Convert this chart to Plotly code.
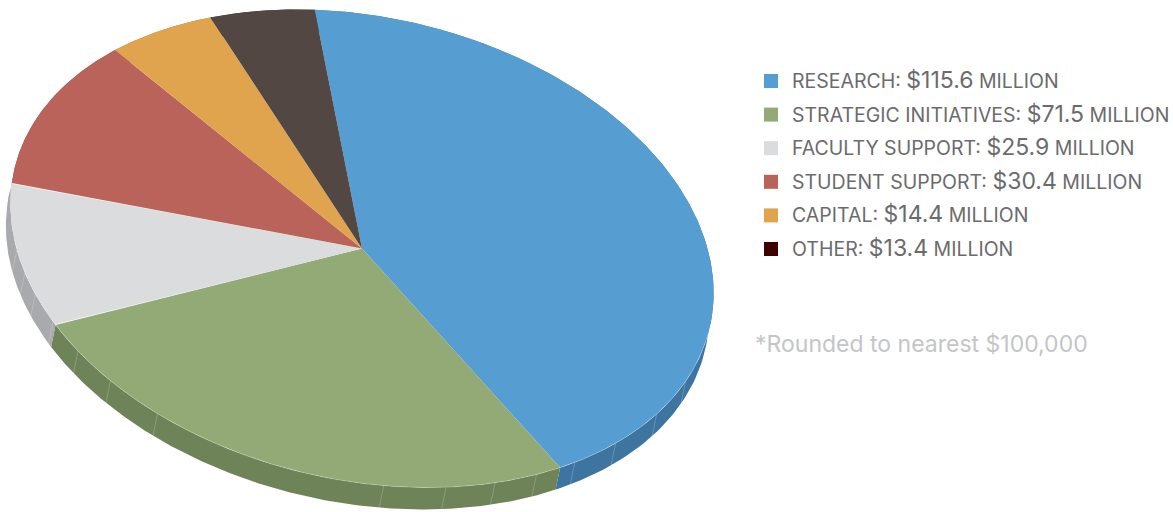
import numpy as np
import plotly.graph_objects as go

labels = ["RESEARCH", "STRATEGIC INITIATIVES", "FACULTY SUPPORT", "STUDENT SUPPORT", "CAPITAL", "OTHER"]
values = [115.6, 71.5, 25.9, 30.4, 14.4, 13.4]
top_colors = ["#569dd2", "#93a976", "#dbdcde", "#b9635a", "#e0a44e", "#524743"]
side_colors = ["#3d75a0", "#6e8358", "#a9aaae", "#8a4a43", "#a87b3a", "#3d3532"]
legend_colors = ["#569dd2", "#93a976", "#dbdcde", "#b9635a", "#e0a44e", "#3f0000"]
footnote = "*Rounded to nearest $100,000"

# projection of the tilted disc, in page pixels
CX, CY = 362.0, 248.5
A, B = 356.6, 231.6
PHI = np.radians(12.6)
START = -106.0
DEPTH_X, DEPTH_Y = -4.5, 22.0
SEAMS = [14.8, 24.8, 35.6, 44.5, 52.0, 59.5, 67.9, 78.2, 117.3, 127.4, 135.6, 143.2, 150.0, 155.2, 160.7]


def rim(t_deg, dx=0.0, dy=0.0):
    t = np.radians(np.asarray(t_deg, dtype=float))
    u, v = A * np.cos(t), B * np.sin(t)
    return CX + u * np.cos(PHI) - v * np.sin(PHI) + dx, CY + u * np.sin(PHI) + v * np.cos(PHI) + dy


fig = go.Figure()
total = sum(values)
edges = START + np.concatenate([[0], np.cumsum(values)]) / total * 360.0

# side walls
for i in range(len(values)):
    t = np.linspace(edges[i], edges[i + 1], 160)
    x1, y1 = rim(t)
    x2, y2 = rim(t[::-1], DEPTH_X, DEPTH_Y)
    fig.add_trace(go.Scatter(x=np.r_[x1, x2], y=np.r_[y1, y2], mode="lines", fill="toself",
                             fillcolor=side_colors[i], line=dict(width=0), hoverinfo="skip", showlegend=False))

# faint facet seams on the wall
for s in SEAMS:
    x1, y1 = rim([s])
    x2, y2 = rim([s], DEPTH_X, DEPTH_Y)
    fig.add_trace(go.Scatter(x=[x1[0], x2[0]], y=[y1[0], y2[0]], mode="lines",
                             line=dict(color="rgba(255,255,255,0.2)", width=1), hoverinfo="skip", showlegend=False))

# top surface
for i in range(len(values)):
    t = np.linspace(edges[i], edges[i + 1], 240)
    x, y = rim(t)
    fig.add_trace(go.Scatter(x=np.r_[CX, x, CX], y=np.r_[CY, y, CY], mode="lines", fill="toself",
                             fillcolor=top_colors[i], line=dict(width=0), name=labels[i],
                             text=f"{labels[i]}: ${values[i]} million", hoverinfo="text", showlegend=False))

# light rim highlight
t = np.linspace(edges[0] + 110, edges[2] + 20, 400)
x, y = rim(t)
fig.add_trace(go.Scatter(x=x, y=y, mode="lines", line=dict(color="rgba(255,255,255,0.25)", width=1),
                         hoverinfo="skip", showlegend=False))

# legend
LEG_X, LEG_Y, LEG_STEP = 771, 81, 33.6
FONT = "Inter"
TEXT = "#6b6b6d"
rows = [LEG_Y + k * LEG_STEP for k in range(len(labels))]
fig.add_trace(go.Scatter(x=[LEG_X] * len(labels), y=rows, mode="markers",
                         marker=dict(symbol="square", size=14, color=legend_colors, line=dict(width=0)),
                         hoverinfo="skip", showlegend=False))
for lab, val, y in zip(labels, values, rows):
    txt = (f'<span style="font-size:19.5px">{lab}: </span>'
           f'<span style="font-size:23px">${val}</span>'
           f'<span style="font-size:19.5px"> MILLION</span>')
    fig.add_annotation(x=790, y=y - 1, xref="x", yref="y", xanchor="left", yanchor="middle", showarrow=False,
                       text=txt, align="left", font=dict(family=FONT, size=19.5, color=TEXT, weight=400))
fig.add_annotation(x=753, y=344, xref="x", yref="y", xanchor="left", yanchor="middle", showarrow=False,
                   text=footnote, font=dict(family=FONT, size=23, color="#c4c5c7", weight=400))

fig.update_layout(width=1173, height=512, margin=dict(l=0, r=0, t=0, b=0),
                  paper_bgcolor="white", plot_bgcolor="white", showlegend=False,
                  xaxis=dict(range=[0, 1173], visible=False, fixedrange=True),
                  yaxis=dict(range=[512, 0], visible=False, fixedrange=True))
fig.write_html("out.html", config=dict(displayModeBar=False),
               post_script="document.body.style.margin='0';document.body.style.overflow='hidden';")
